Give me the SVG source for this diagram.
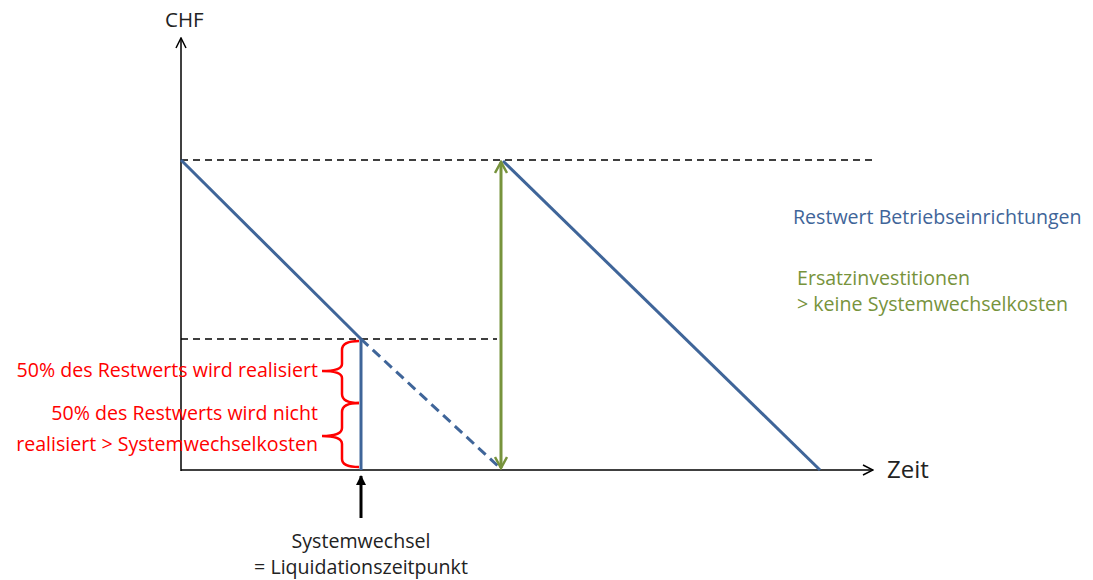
<svg xmlns="http://www.w3.org/2000/svg" width="1093" height="580" viewBox="0 0 1093 580">
<style>
.t{font-family:"Open Sans","Noto Sans","Liberation Sans",sans-serif;font-size:19.6px}
.k{fill:#222}
.r{fill:#ff0000;text-anchor:end}
.ax{stroke:#000;stroke-width:1.5;fill:none}
.dash{stroke:#000;stroke-width:1.6;stroke-dasharray:7,5;fill:none}
.blue{stroke:#3f6599;stroke-width:3;fill:none}
.brace{stroke:#ff0000;stroke-width:2.5;fill:none}
</style>
<defs>
<marker id="open" viewBox="0 0 12 12" refX="11" refY="6" markerWidth="12" markerHeight="12" markerUnits="userSpaceOnUse" orient="auto"><path d="M1,1 L11,6 L1,11" fill="none" stroke="#000" stroke-width="1.5"/></marker>
<marker id="gr" viewBox="0 0 14 14" refX="12" refY="7" markerWidth="14" markerHeight="14" markerUnits="userSpaceOnUse" orient="auto-start-reverse"><path d="M1,1 L12,7 L1,13" fill="none" stroke="#77933c" stroke-width="2.5"/></marker>
<marker id="blk" viewBox="0 0 10 10" refX="9" refY="5" markerWidth="10" markerHeight="10" markerUnits="userSpaceOnUse" orient="auto"><path d="M0,0 L10,5 L0,10 z" fill="#000"/></marker>
</defs>
<g id="axes">
<line class="ax" x1="181" y1="471" x2="181" y2="38" marker-end="url(#open)"/>
<line class="ax" x1="181" y1="470" x2="873" y2="470" marker-end="url(#open)"/>
<text class="t k" x="165" y="27" style="font-size:20.5px">CHF</text>
<text class="t k" x="887" y="478" style="font-size:24px">Zeit</text>
</g>
<g id="connectors">
<line class="dash" x1="181" y1="160" x2="877" y2="160"/>
<line class="dash" x1="181" y1="339" x2="497" y2="339"/>
<line class="blue" x1="181" y1="160" x2="361" y2="339"/>
<line class="blue" x1="361" y1="339" x2="361" y2="470"/>
<line class="blue" x1="361" y1="339" x2="499" y2="467" stroke-dasharray="10,6"/>
<line class="blue" x1="503" y1="161" x2="820" y2="470"/>
<line x1="501" y1="162" x2="501" y2="468" stroke="#77933c" stroke-width="3" marker-start="url(#gr)" marker-end="url(#gr)"/>
<line x1="361" y1="518" x2="361" y2="476" stroke="#000" stroke-width="3" marker-end="url(#blk)"/>
</g>
<g id="braces">
<path class="brace" d="M359,341 Q342,341 342,350 L342,364 Q342,371 322,371 Q342,371 342,378 L342,394 Q342,403 359,403"/>
<path class="brace" d="M359,403 Q342,403 342,412 L342,428 Q342,436 322,436 Q342,436 342,444 L342,459 Q342,467 359,467"/>
</g>
<g id="labels">
<text class="t r" x="318" y="377">50% des Restwerts wird realisiert</text>
<text class="t r" x="318" y="420">50% des Restwerts wird nicht</text>
<text class="t r" x="318" y="451">realisiert &gt; Systemwechselkosten</text>
<text class="t k" x="361" y="548" text-anchor="middle">Systemwechsel</text>
<text class="t k" x="361" y="574" text-anchor="middle">= Liquidationszeitpunkt</text>
<text class="t" x="793" y="224" fill="#3f6599">Restwert Betriebseinrichtungen</text>
<text class="t" x="797" y="285" fill="#77933c">Ersatzinvestitionen</text>
<text class="t" x="797" y="311" fill="#77933c">&gt; keine Systemwechselkosten</text>
</g>
</svg>
